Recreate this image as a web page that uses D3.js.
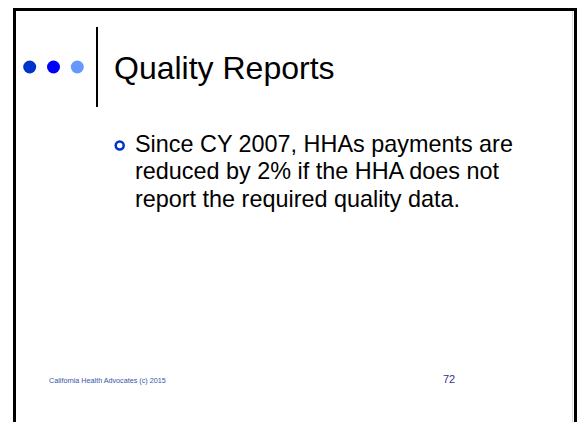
<!DOCTYPE html>
<html>
<head>
<meta charset="utf-8">
<script src="https://cdn.jsdelivr.net/npm/d3@7"></script>
<style>
  body { margin: 0; background: #fff; }
  svg { display: block; font-family: Arial, "Liberation Sans", sans-serif; }
</style>
</head>
<body>
<svg id="slide" width="578" height="422"></svg>
<script>
const title = "Quality Reports";
const dotColors = ["#0033cc", "#0000ff", "#6699ff"];
const bulletLines = [
  "Since CY 2007, HHAs payments are",
  "reduced by 2% if the HHA does not",
  "report the required quality data."
];
const footerText = "California Health Advocates (c) 2015";
const pageNumber = "72";

const width = 578, height = 422;
const svg = d3.select('#slide');

// frame (open at the bottom)
svg.append('rect').attr('x', 14.5).attr('y', 9.5).attr('width', 561).attr('height', 440)
  .attr('fill', 'none').attr('stroke', '#000').attr('stroke-width', 3);
svg.append('line').attr('x1', 572.5).attr('x2', 572.5).attr('y1', 11).attr('y2', height)
  .attr('stroke', '#dddddd').attr('stroke-width', 1);

// three dots
const dotX = d3.scalePoint().domain(d3.range(dotColors.length)).range([29.7, 77.3]);
svg.selectAll('.dot').data(dotColors).join('circle').attr('class', 'dot')
  .attr('cx', (d, i) => dotX(i)).attr('cy', 67).attr('r', 6.5).attr('fill', d => d);

// separator
svg.append('line').attr('x1', 97).attr('x2', 97).attr('y1', 27).attr('y2', 107)
  .attr('stroke', '#000').attr('stroke-width', 2);

svg.append('text').text(title).attr('x', 114).attr('y', 79)
  .attr('font-size', 32).attr('fill', '#000');

// bullet
const lineY = d3.scaleLinear().domain([0, 1]).range([151.5, 179]);
svg.append('circle').attr('cx', 119.7).attr('cy', 145.5).attr('r', 4)
  .attr('fill', 'none').attr('stroke', '#0033cc').attr('stroke-width', 2.5);
svg.selectAll('.body').data(bulletLines).join('text').attr('class', 'body')
  .text(d => d).attr('x', 135).attr('y', (d, i) => lineY(i))
  .attr('font-size', 23.4).attr('fill', '#000');

// footer
svg.append('text').text(footerText).attr('x', 49).attr('y', 383)
  .attr('font-size', 7.2).attr('fill', '#3355aa');
svg.append('text').text(pageNumber).attr('x', 443).attr('y', 383)
  .attr('font-size', 11).attr('fill', '#333388');
</script>
</body>
</html>
